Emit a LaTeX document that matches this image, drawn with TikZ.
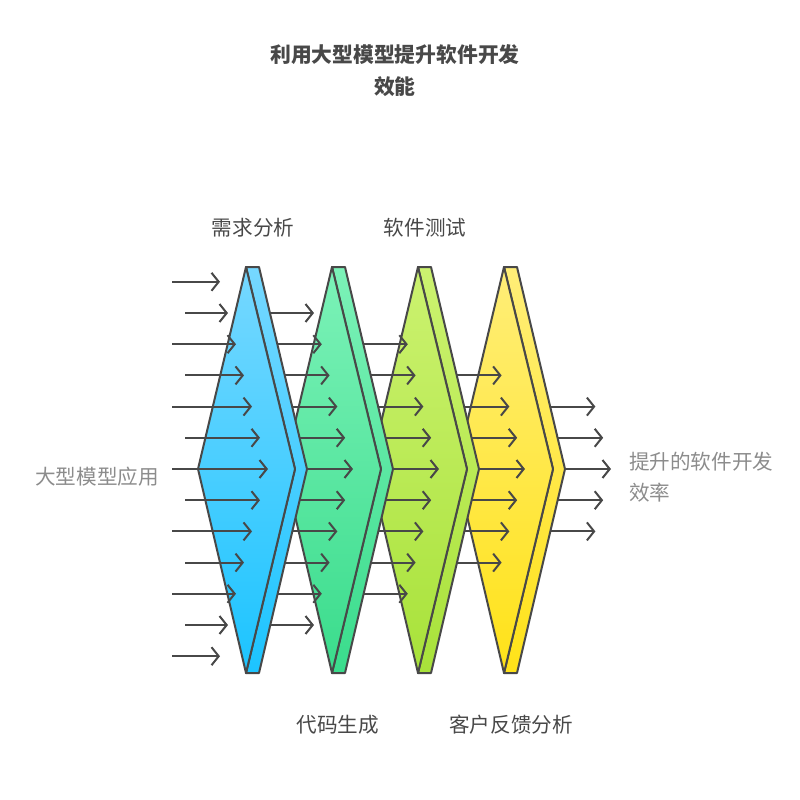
\documentclass[tikz,border=0pt]{standalone}
\usepackage{fontspec}
\setmainfont{Noto Sans CJK SC}
\usetikzlibrary{arrows.meta}
\definecolor{linegray}{RGB}{72,72,72}
\definecolor{sidegray}{RGB}{140,140,140}
\definecolor{bluetop}{RGB}{118,216,255}
\definecolor{bluebot}{RGB}{28,196,255}
\definecolor{greentop}{RGB}{124,242,184}
\definecolor{greenbot}{RGB}{58,220,140}
\definecolor{limetop}{RGB}{204,242,112}
\definecolor{limebot}{RGB}{168,226,58}
\definecolor{yellowtop}{RGB}{255,238,120}
\definecolor{yellowbot}{RGB}{255,226,24}
\tikzset{
  stage/.style = {draw=linegray, line width=1pt, line join=round},
  flow/.style  = {-{Straight Barb[length=3.6pt,width=9pt]}, line width=1pt, draw=linegray},
  stagelabel/.style = {font=\fontsize{10.3}{14}\selectfont, text=linegray},
  sidelabel/.style  = {font=\fontsize{10.3}{15.5}\selectfont, text=sidegray, align=left},
}
% one stage: #1 = x of the top point, #2 = top colour, #3 = bottom colour
\newcommand\drawstage[3]{%
  \path[stage, top color=#2, bottom color=#3]
    (#1,267) -- (#1+13,267) -- (#1+61,469) -- (#1+13,673) -- (#1,673) -- (#1+49,469) -- cycle;
  \path[stage, top color=#2, bottom color=#3]
    (#1,267) -- (#1-48,469) -- (#1,673) -- (#1+49,469) -- cycle;
}
% one fan of arrows: #1 = half count, #2 = start x, #3 = tip x in the middle row
\newcommand\drawfan[3]{%
  \foreach \j in {-#1,...,#1} {
    \pgfmathsetmacro\rowy{469+31.2*\j}
    \pgfmathsetmacro\tipx{#3-7.8*abs(\j)}
    \coordinate (from) at (#2,\rowy);
    \coordinate (to) at (\tipx,\rowy);
    \draw[flow] (from) -- (to);
  }
}

\begin{document}
\begin{tikzpicture}[x=0.5pt, y=-0.5pt]
  \useasboundingbox (0,0) rectangle (800,800);

  \node[font=\bfseries\fontsize{10.4}{16}\selectfont, text=linegray, align=center] (title) at (395,71)
    {利用大型模型提升软件开发\\效能};

  % back to front
  \drawfan{2}{504}{611}
  \drawstage{504}{yellowtop}{yellowbot}
  \drawfan{3}{418}{525}
  \drawstage{418}{limetop}{limebot}
  \drawfan{4}{332}{439}
  \drawstage{332}{greentop}{greenbot}
  \drawfan{5}{246}{353}
  \drawstage{246}{bluetop}{bluebot}
  % inputs
  \foreach \j in {-6,...,6} {
    \pgfmathsetmacro\rowy{469+31.2*\j}
    \pgfmathsetmacro\tipx{268-8*abs(\j)}
    \pgfmathsetmacro\startx{isodd(\j) ? 185 : 172}
    \coordinate (in) at (\startx,\rowy);
    \coordinate (inend) at (\tipx,\rowy);
    \draw[flow] (in) -- (inend);
  }

  \node[stagelabel] (req)  at (253,228) {需求分析};
  \node[stagelabel] (test) at (425,228) {软件测试};
  \node[stagelabel] (code) at (338,725) {代码生成};
  \node[stagelabel] (fb)   at (511,725) {客户反馈分析};

  \node[sidelabel, anchor=east] (apply) at (166,477) {大型模型应用};
  \node[sidelabel, anchor=west] (gain)  at (622,477) {提升的软件开发\\效率};
\end{tikzpicture}
\end{document}
